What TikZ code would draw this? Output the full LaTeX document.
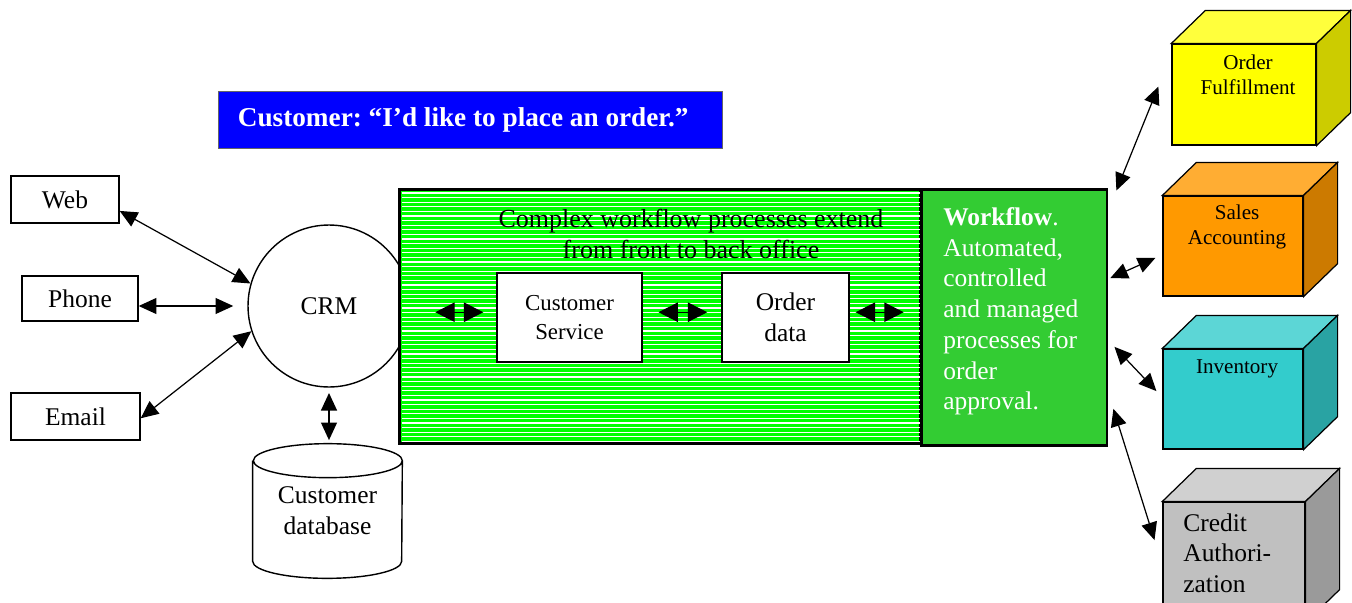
\documentclass[tikz,border=0pt]{standalone}
\usepackage{fontspec}
\setmainfont{Liberation Serif}
\usepackage{tikz}
\usetikzlibrary{arrows.meta,positioning,calc}
\definecolor{bannerblue}{rgb}{0,0,1}
\definecolor{stripegreen}{rgb}{0,1,0}
\definecolor{wfgreen}{RGB}{51,204,51}
\definecolor{fulfront}{RGB}{255,255,0}
\definecolor{fultop}{RGB}{255,255,60}
\definecolor{fulside}{RGB}{204,204,0}
\definecolor{salfront}{RGB}{255,153,0}
\definecolor{saltop}{RGB}{255,173,51}
\definecolor{salside}{RGB}{204,122,0}
\definecolor{invfront}{RGB}{51,204,204}
\definecolor{invtop}{RGB}{92,214,214}
\definecolor{invside}{RGB}{41,163,163}
\definecolor{crefront}{RGB}{192,192,192}
\definecolor{cretop}{RGB}{208,208,208}
\definecolor{creside}{RGB}{154,154,154}

\begin{document}
\begin{tikzpicture}[x=0.02cm,y=-0.02cm,font=\fontsize{14.5}{17.5}\selectfont,
    box/.style={draw,line width=0.8pt,fill=white,inner sep=0pt,align=center},
    conn/.style={<->,>={Triangle[length=10pt,width=9pt]},line width=0.7pt},
    fatarr/.style={<->,>={Triangle[length=11pt,width=11pt]},line width=0.7pt},
    cubefront/.style={draw,line width=0.7pt,inner sep=0pt,minimum width=2.8cm,minimum height=2cm},
    cubetext/.style={font=\fontsize{12}{14.2}\selectfont,align=center,inner sep=0pt}]
    \useasboundingbox (0,0) rectangle (1352,602);
    \clip (0,0) rectangle (1352,602);

    % banner
    \node[fill=bannerblue,draw=black!60,minimum width=10.08cm,minimum height=1.14cm] (banner) at (470,119.5) {};
    \node[anchor=west,inner sep=0pt,text=white,font=\bfseries\fontsize{15.5}{18}\selectfont\frenchspacing] (bannertxt) at ([xshift=11.3pt]banner.west) {Customer: “I’d like to place an order.”};

    % channels and crm
    \node[box,minimum width=2.16cm,minimum height=0.94cm] (web) at (65,199.5) {Web};
    \node[box,minimum width=2.32cm,minimum height=0.9cm] (phone) at (80,298.5) {Phone};
    \node[box,minimum width=2.58cm,minimum height=0.94cm] (email) at (75.5,416.5) {Email};
    \node[draw,circle,line width=0.8pt,minimum size=3.24cm,inner sep=0pt] (crm) at (329,306) {CRM};

    % database
    \node[minimum width=2.98cm,minimum height=2.68cm,inner sep=0pt,align=center] (db) at (327.5,511) {Customer\\database};
    \draw[line width=0.8pt] ($(db.north west)+(0,17)$) -- ($(db.south west)+(0,-17)$)
        arc[start angle=180,end angle=0,x radius=74.5,y radius=17]
        -- ($(db.north east)+(0,17)$)
        arc[start angle=0,end angle=-180,x radius=74.5,y radius=17]
        arc[start angle=180,end angle=0,x radius=74.5,y radius=17];

    \draw[conn] ([yshift=-6.5pt]web.east) -- (crm.164);
    \draw[conn,shorten >=8pt] (phone.east |- crm.west) -- (crm.west);
    \draw[conn] ([yshift=-1pt]email.east) -- (crm.198);
    \draw[conn,line width=1pt,shorten <=3pt,shorten >=2pt] (crm.south) -- (crm.south |- db.north);

    % front to back office
    \node[draw,line width=1.7pt,fill=stripegreen,minimum width=10.44cm,minimum height=5.1cm,inner sep=0pt] (front) at (660,316.5) {};
    \foreach \y in {193,197.6,...,442}
        \draw[white,line width=0.6pt] (401.5,\y) -- (919.5,\y);
    \node[align=center,font=\fontsize{14.8}{18}\selectfont] (cplx) at (691,234) {Complex workflow processes extend\\from front to back office};
    \node[box,minimum width=2.9cm,minimum height=1.78cm,font=\fontsize{13}{16.5}\selectfont] (cs) at (569.5,317.5) {Customer\\Service};
    \node[box,minimum width=2.54cm,minimum height=1.78cm] (od) at (785.5,317.5) {Order\\data};

    % workflow
    \node[draw,line width=1.7pt,fill=wfgreen,minimum width=3.72cm,minimum height=5.14cm,inner sep=0pt] (wf) at (1014,317.5) {};
    \node[anchor=north west,text=white,align=left,inner sep=0pt] (wftxt) at (943,207) {\textbf{Workflow}.\\Automated,\\controlled\\and managed\\processes for\\order\\approval.};

    \draw[fatarr,shorten <=14pt,shorten >=7.4pt] ([yshift=3pt]cs.west -| crm.east) -- ([yshift=3pt]cs.west);
    \draw[fatarr,shorten <=9pt,shorten >=8pt] ([yshift=3pt]cs.east) -- ([yshift=3pt]od.west);
    \draw[fatarr,shorten <=3.4pt,shorten >=9pt] ([yshift=3pt]od.east) -- ([yshift=3pt]od.east -| wf.west);

    % back office systems
    \node[cubefront,fill=fulfront,minimum width=2.88cm,minimum height=2.02cm] (ful) at (1244,94.5) {};
    \node[cubefront,fill=salfront] (sal) at (1233,246) {};
    \node[cubefront,fill=invfront] (inv) at (1233,399) {};
    \node[cubefront,fill=crefront,minimum width=2.84cm,minimum height=2.4cm] (cre) at (1234,562) {};
    \foreach \c/\ctop/\cside in {ful/fultop/fulside,sal/saltop/salside,inv/invtop/invside,cre/cretop/creside} {
        \draw[line width=0.7pt,fill=\ctop] (\c.north west) -- ++(34,-33) -- ($(\c.north east)+(34,-33)$) -- (\c.north east) -- cycle;
        \draw[line width=0.7pt,fill=\cside] (\c.north east) -- ++(34,-33) -- ($(\c.south east)+(34,-33)$) -- (\c.south east) -- cycle;
    }
    \node[cubetext,below=6.5pt of ful.north,xshift=2.3pt] (fultxt) {Order\\Fulfillment};
    \node[cubetext,below=5pt of sal.north,xshift=2.3pt] (saltxt) {Sales\\Accounting};
    \node[cubetext,below=6pt of inv.north,xshift=2.3pt] (invtxt) {Inventory};
    \node[anchor=north west,align=left,inner sep=0pt] (cretxt) at (1183,513) {Credit\\Authori-\\zation};

    \draw[conn] ([xshift=4.5pt,yshift=-1.7pt]wf.north east) -- ([xshift=-7.4pt,yshift=4.5pt]ful.west);
    \draw[conn] ([xshift=1pt,yshift=22.4pt]wf.east) -- ([xshift=-4pt,yshift=-6.8pt]sal.west);
    \draw[conn] ([xshift=3.4pt,yshift=-16.7pt]wf.east) -- ([xshift=-3.4pt,yshift=4.5pt]inv.west);
    \draw[conn] ([xshift=2.8pt,yshift=22pt]wf.south east) -- ([xshift=-4.5pt,yshift=12.5pt]cre.west);
\end{tikzpicture}
\end{document}
